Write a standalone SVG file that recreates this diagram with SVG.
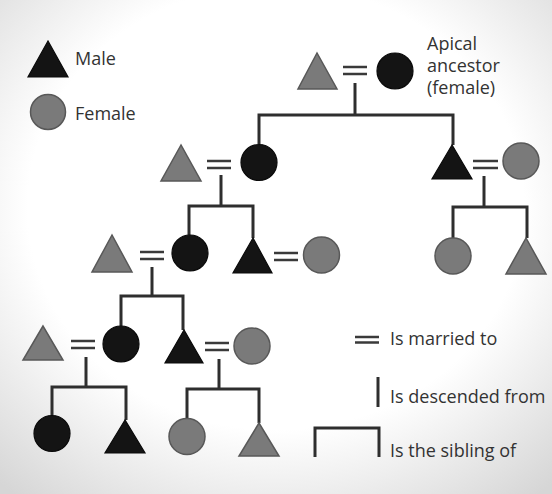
<svg xmlns="http://www.w3.org/2000/svg" width="552" height="494" viewBox="0 0 552 494">
<defs>
<radialGradient id="bg" cx="50%" cy="42%" r="75%">
<stop offset="0.6" stop-color="#ffffff"/>
<stop offset="1" stop-color="#d6d6d6"/>
</radialGradient>
</defs>
<style>
.blk{fill:#141414;stroke:#0a0a0a;stroke-width:1.2}
.gry{fill:#7a7a7a;stroke:#585858;stroke-width:1.5}
.ln{fill:none;stroke:#2e2e2e;stroke-width:3;stroke-linecap:butt}
.eq{fill:none;stroke:#3a3a3a;stroke-width:2.5}
.t{font-family:"Open Sans","Liberation Sans",sans-serif;font-size:18px;fill:#333}
</style>
<rect x="0" y="0" width="552" height="494" fill="url(#bg)"/>

<g id="legend-male"><polygon class="blk" points="48,41 28,77 68,77"/><text class="t" x="75" y="65">Male</text></g>
<g id="legend-female"><circle class="gry" cx="48" cy="112" r="17.5"/><text class="t" x="75" y="120">Female</text></g>

<g id="connectors">
<!-- gen1 -->
<line class="eq" x1="343" y1="67" x2="367" y2="67"/><line class="eq" x1="343" y1="74" x2="367" y2="74"/>
<polyline class="ln" points="355,83 355,115"/>
<polyline class="ln" points="259,144 259,115 453,115 453,145"/>
<!-- gen2 left -->
<line class="eq" x1="207" y1="161" x2="231" y2="161"/><line class="eq" x1="207" y1="168" x2="231" y2="168"/>
<polyline class="ln" points="221,175 221,206"/>
<polyline class="ln" points="189,235 189,206 253,206 253,238"/>
<!-- gen2 right -->
<line class="eq" x1="473" y1="161" x2="498" y2="161"/><line class="eq" x1="473" y1="168" x2="498" y2="168"/>
<polyline class="ln" points="484,176 484,207"/>
<polyline class="ln" points="453,238 453,207 527,207 527,238"/>
<!-- gen3 -->
<line class="eq" x1="140" y1="252" x2="164" y2="252"/><line class="eq" x1="140" y1="259" x2="164" y2="259"/>
<line class="eq" x1="274" y1="253" x2="298" y2="253"/><line class="eq" x1="274" y1="260" x2="298" y2="260"/>
<polyline class="ln" points="152,267 152,296"/>
<polyline class="ln" points="121,326 121,296 183,296 183,330"/>
<!-- gen4 -->
<line class="eq" x1="71" y1="341" x2="95" y2="341"/><line class="eq" x1="71" y1="348" x2="95" y2="348"/>
<line class="eq" x1="205" y1="343" x2="229" y2="343"/><line class="eq" x1="205" y1="350" x2="229" y2="350"/>
<polyline class="ln" points="86,357 86,387"/>
<polyline class="ln" points="52,415 52,387 126,387 126,420"/>
<polyline class="ln" points="219,359 219,389"/>
<polyline class="ln" points="187,418 187,389 259,389 259,423"/>
</g>

<g id="g1-husband"><polygon class="gry" points="317,53 298,89 337,89"/></g>
<g id="apical-ancestor"><circle class="blk" cx="395" cy="71" r="18"/>
<text class="t" x="427" y="50">Apical</text><text class="t" x="427" y="72">ancestor</text><text class="t" x="427" y="94">(female)</text></g>

<g id="g2-left-husband"><polygon class="gry" points="181,145 161,181 201,181"/></g>
<g id="g2-left-daughter"><circle class="blk" cx="259" cy="162.5" r="18"/></g>
<g id="g2-right-son"><polygon class="blk" points="452,145 432,179 472,179"/></g>
<g id="g2-right-wife"><circle class="gry" cx="521" cy="161" r="18"/></g>

<g id="g3-left-husband"><polygon class="gry" points="112,235 92,272 132,272"/></g>
<g id="g3-daughter"><circle class="blk" cx="190" cy="253" r="18"/></g>
<g id="g3-son"><polygon class="blk" points="253,238 233,273 272,273"/></g>
<g id="g3-son-wife"><circle class="gry" cx="321.5" cy="255" r="18"/></g>
<g id="g3-right-daughter"><circle class="gry" cx="453" cy="256" r="18"/></g>
<g id="g3-right-son"><polygon class="gry" points="526,238 506,274 546,274"/></g>

<g id="g4-left-husband"><polygon class="gry" points="43,326 23,360 63,360"/></g>
<g id="g4-daughter"><circle class="blk" cx="121" cy="344" r="18"/></g>
<g id="g4-son"><polygon class="blk" points="184,330 165,363 203,363"/></g>
<g id="g4-son-wife"><circle class="gry" cx="252" cy="346" r="18"/></g>

<g id="g5-1"><circle class="blk" cx="52" cy="433.5" r="18"/></g>
<g id="g5-2"><polygon class="blk" points="125,420 105,453 145,453"/></g>
<g id="g5-3"><circle class="gry" cx="187" cy="436.5" r="18"/></g>
<g id="g5-4"><polygon class="gry" points="259,423 239,456 279,456"/></g>

<g id="legend-married"><line class="eq" x1="355" y1="337" x2="379" y2="337"/><line class="eq" x1="355" y1="342.5" x2="379" y2="342.5"/><text class="t" x="390" y="345">Is married to</text></g>
<g id="legend-descended"><line class="ln" x1="378" y1="377" x2="378" y2="407"/><text class="t" x="390" y="403">Is descended from</text></g>
<g id="legend-sibling"><polyline class="ln" points="315,457 315,428 379,428 379,457"/><text class="t" x="390" y="457">Is the sibling of</text></g>
</svg>
